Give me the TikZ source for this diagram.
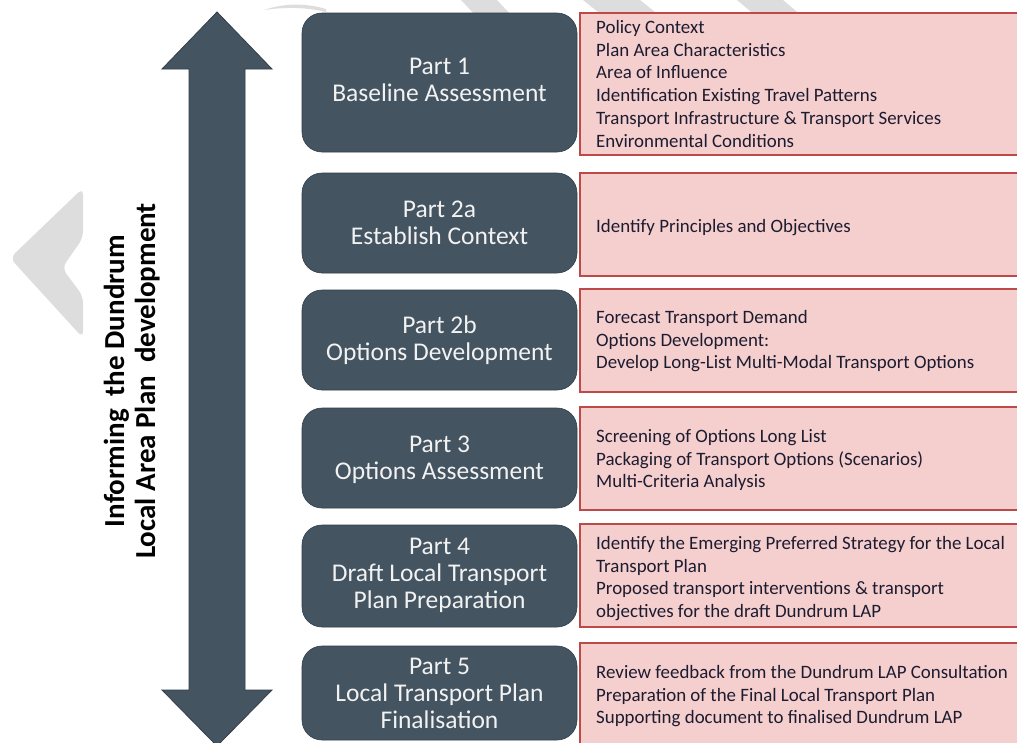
\documentclass[tikz,border=0pt]{standalone}
\usepackage{fontspec}
\setmainfont{Carlito}
\definecolor{slate}{RGB}{68,84,97}
\definecolor{slateedge}{RGB}{50,62,72}
\definecolor{pinkfill}{RGB}{245,206,206}
\definecolor{redline}{RGB}{188,74,72}
\definecolor{navytext}{RGB}{28,28,48}
\definecolor{wm}{RGB}{221,221,221}
\definecolor{boxtext}{RGB}{242,242,242}
\tikzset{
  partbox/.style={rectangle, fill=slate, draw=slateedge, line width=0.6pt, rounded corners=20pt,
    inner sep=0pt, outer sep=0pt, anchor=north west},
  taskbox/.style={rectangle, fill=pinkfill, draw=redline, line width=2.5pt,
    inner sep=0pt, outer sep=0pt, anchor=north west},
  parttext/.style={text=boxtext, font=\fontsize{25.5}{27}\selectfont, align=center,
    inner sep=0pt, anchor=north},
  tasktext/.style={text=navytext, font=\fontsize{18.9}{22.8}\selectfont, align=left,
    inner sep=0pt, anchor=north west},
  sidetext/.style={text=black, font=\bfseries\fontsize{29}{29}\selectfont, rotate=90,
    anchor=base, inner sep=0pt},
  watermark/.style={fill=wm, draw=none}
}
\newcommand{\pfirst}{\rule{0pt}{22pt}}
\newcommand{\tfirst}{\rule{0pt}{17pt}}
\begin{document}
\begin{tikzpicture}[x=1pt,y=-1pt]
\useasboundingbox (0,0) rectangle (1017,742);
\clip (0,0) rectangle (1017,742);
\fill[white] (0,0) rectangle (1017,742);

% faint watermark pieces
\fill[watermark, rounded corners=7pt] (83,188) -- (10,258) -- (83,338) -- (83,296) -- (62,268) -- (83,238) -- cycle;
\fill[watermark] (264,10) .. controls (284,3) and (306,3) .. (326,9) -- (326,12) .. controls (306,7) and (284,7) .. (264,10) -- cycle;
\fill[watermark] (461,0) -- (497,0) -- (512,16) -- (476,16) -- cycle;
\fill[watermark] (583,0) -- (640,0) -- (660,16) -- (603,16) -- cycle;
\fill[watermark] (737,0) -- (783,0) -- (802,16) -- (756,16) -- cycle;

% double arrow
\fill[slate, draw=slateedge, line width=0.8pt]
  (217,12) -- (272,69) -- (245,69) -- (245,690) -- (272,690) -- (217,746)
  -- (162,690) -- (189,690) -- (189,69) -- (162,69) -- cycle;

% side label
\node[sidetext] (side1) at (124,381) {Informing\ \ the\ Dundrum};
\node[sidetext] (side2) at (155,381) {Local Area Plan\ \ development};

% dark part boxes
\node[partbox, minimum width=275pt, minimum height=139pt] (p1)  at (302,13)  {};
\node[partbox, minimum width=275pt, minimum height=100pt] (p2a) at (302,173) {};
\node[partbox, minimum width=275pt, minimum height=100pt] (p2b) at (302,290) {};
\node[partbox, minimum width=275pt, minimum height=100pt] (p3)  at (302,408) {};
\node[partbox, minimum width=275pt, minimum height=102pt] (p4)  at (302,525) {};
\node[partbox, minimum width=275pt, minimum height=94pt]  (p5)  at (302,646) {};

\node[parttext] (p1t)  at (439.5,52)  {\pfirst Part 1\\Baseline Assessment};
\node[parttext] (p2at) at (439.5,195) {\pfirst Part 2a\\Establish Context};
\node[parttext] (p2bt) at (439.5,311) {\pfirst Part 2b\\Options Development};
\node[parttext] (p3t)  at (439.5,430) {\pfirst Part 3\\Options Assessment};
\node[parttext] (p4t)  at (439.5,532) {\pfirst Part 4\\Draft Local Transport\\Plan Preparation};
\node[parttext] (p5t)  at (439.5,652) {\pfirst Part 5\\Local Transport Plan\\Finalisation};

% pink task boxes
\node[taskbox, minimum width=460pt, minimum height=142pt] (t1) at (580,13)  {};
\node[taskbox, minimum width=460pt, minimum height=103pt] (t2) at (580,173) {};
\node[taskbox, minimum width=460pt, minimum height=103pt] (t3) at (580,289) {};
\node[taskbox, minimum width=460pt, minimum height=103pt] (t4) at (580,407) {};
\node[taskbox, minimum width=460pt, minimum height=103pt] (t5) at (580,524) {};
\node[taskbox, minimum width=460pt, minimum height=120pt] (t6) at (580,643) {};

\node[tasktext] (t1t) at (596,16) {\tfirst Policy Context\\Plan Area Characteristics\\Area of Influence\\Identification Existing Travel Patterns\\Transport Infrastructure \& Transport Services\\Environmental Conditions};
\node[tasktext] (t2t) at (596,215) {\tfirst Identify Principles\ and Objectives};
\node[tasktext] (t3t) at (596,306) {\tfirst Forecast Transport Demand\\Options Development:\\Develop Long-List Multi-Modal Transport Options};
\node[tasktext] (t4t) at (596,425) {\tfirst Screening of Options Long List\\Packaging of Transport Options (Scenarios)\\Multi-Criteria Analysis};
\node[tasktext] (t5t) at (596,532) {\tfirst Identify the Emerging Preferred Strategy for the Local\\Transport Plan\\Proposed\ transport interventions \& transport\\objectives for the draft Dundrum LAP};
\node[tasktext] (t6t) at (596,661) {\tfirst Review feedback from the Dundrum\ LAP Consultation\\Preparation of the Final Local Transport Plan\\Supporting\ document to finalised\ Dundrum LAP};
\end{tikzpicture}
\end{document}
